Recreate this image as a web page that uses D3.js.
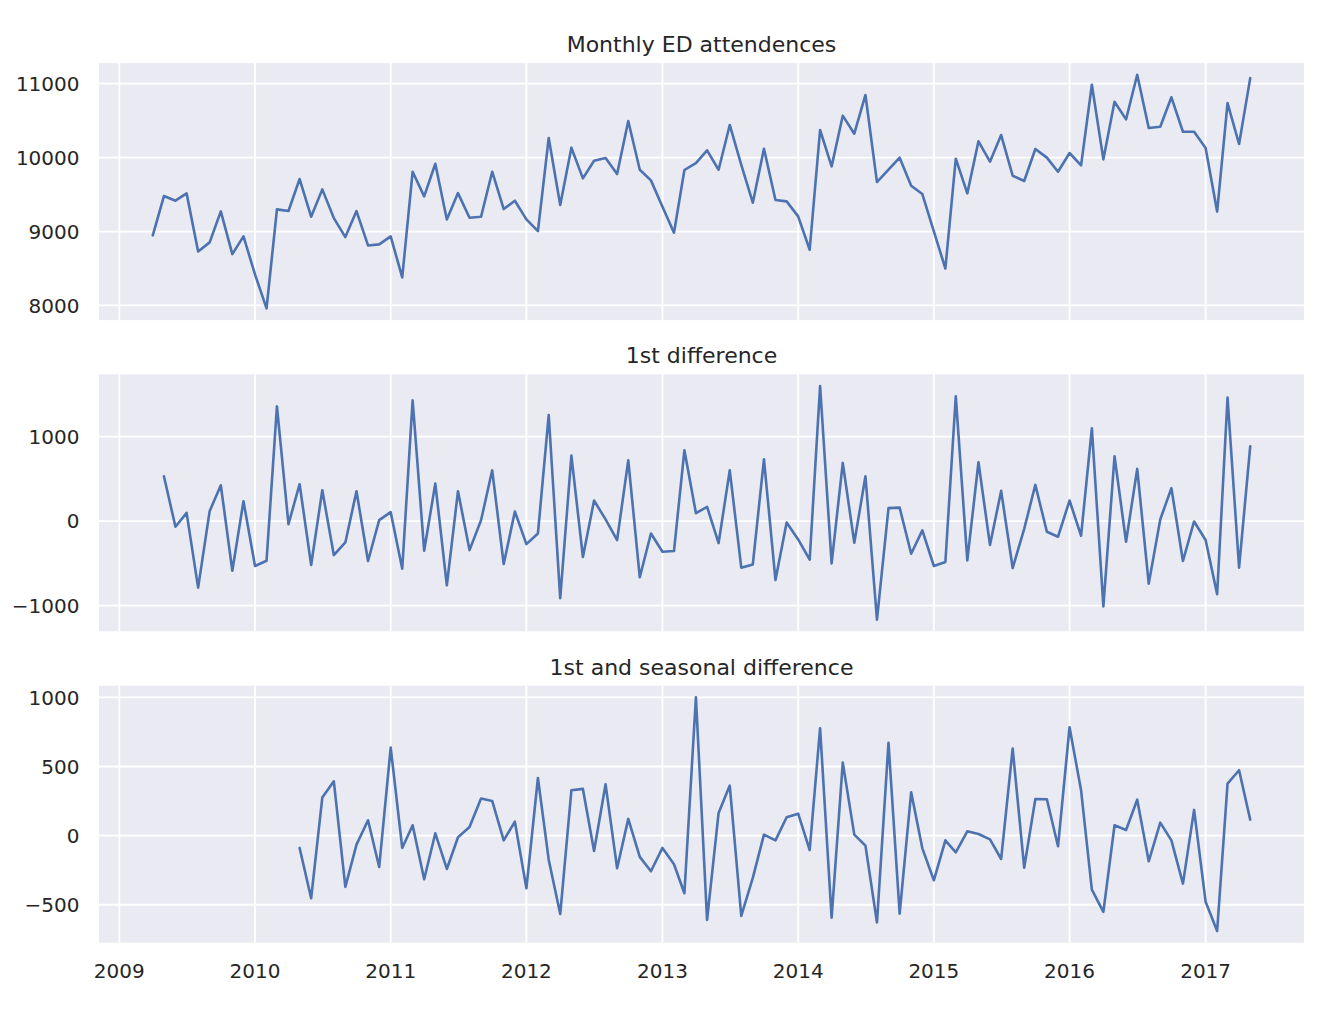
<!DOCTYPE html>
<html>
<head>
<meta charset="utf-8">
<script src="https://cdn.jsdelivr.net/npm/d3@7"></script>
<style>
  html, body { margin: 0; padding: 0; background: #fff; }
  svg { display: block; font-family: "DejaVu Sans", sans-serif; }
  .tick-label { fill: #262626; font-size: 20px; }
  .panel-title { fill: #262626; font-size: 22px; }
</style>
</head>
<body>
<div id="chart"></div>
<script>
// Monthly ED attendances, first value April 2009
const levelStart = [2009, 3];
const levels = [
  8948, 9480, 9417, 9516, 8731, 8853, 9272, 8695, 8934,
  8420, 7960, 9300, 9277, 9710, 9200, 9570, 9182, 8925, 9277, 8812, 8826,
  8934, 8379, 9809, 9475, 9917, 9164, 9520, 9187, 9200, 9809, 9304, 9417,
  9164, 9006, 10265, 9358, 10134, 9719, 9958, 9994, 9778, 10495, 9836, 9692,
  9335, 8984, 9832, 9926, 10098, 9836, 10441, 9900, 9390, 10120, 9426, 9408,
  9205, 8754, 10373, 9881, 10567, 10323, 10847, 9669, 9836, 9999, 9620, 9507,
  9002, 8500, 9985, 9516, 10220, 9944, 10305, 9755, 9683, 10116, 9999, 9809,
  10062, 9895, 10985, 9976, 10756, 10517, 11120, 10400, 10418, 10815, 10350, 10350,
  10129, 9270, 10738, 10184, 11075
];

// 1st difference, first value May 2009
const diffStart = [2009, 4];
const diff1 = [
  531, -67, 98, -787, 118, 425, -587, 236,
  -531, -469, 1358, -35, 437, -520, 366, -402, -252, 354, -472, 12,
  106, -563, 1429, -350, 445, -760, 354, -343, 10, 602, -508, 114,
  -272, -146, 1256, -913, 776, -425, 244, 20, -224, 720, -665, -146,
  -362, -354, 839, 94, 169, -260, 602, -551, -512, 732, -697, -16,
  -217, -457, 1600, -500, 689, -256, 531, -1166, 154, 160, -386, -110,
  -531, -484, 1478, -465, 697, -283, 358, -555, -91, 429, -126, -185,
  244, -173, 1098, -1010, 768, -244, 618, -740, 20, 390, -472, -4,
  -224, -865, 1462, -551, 886
];

// 1st and seasonal difference, first value May 2010
const seasStart = [2010, 4];
const diffSeas = [
  -89, -453, 275, 393, -371, -65, 111, -227,
  637, -89, 75, -316, 17, -241, -12, 63, 268, 251, -34, 101,
  -381, 417, -174, -567, 328, 338, -111, 371, -236, 121, -154, -258,
  -89, -207, -417, 1000, -610, 164, 362, -581, -306, 7, -34, 133,
  159, -104, 777, -593, 528, 7, -72, -628, 671, -564, 314, -92,
  -323, -34, -121, 31, 12, -27, -169, 630, -232, 265, 263, -77,
  784, 328, -391, -552, 75, 41, 260, -186, 94, -34, -347, 186,
  -478, -690, 376, 473, 116
];

const titles = ['Monthly ED attendences', '1st difference', '1st and seasonal difference'];
const yTicks = [
  [8000, 9000, 10000, 11000],
  [-1000, 0, 1000],
  [-500, 0, 500, 1000]
];
const xTickYears = [2009, 2010, 2011, 2012, 2013, 2014, 2015, 2016, 2017];

// 把數列轉成 {date, value}
function toPoints(start, values) {
  const first = new Date(Date.UTC(start[0], start[1], 1));
  return values.map((v, i) => ({ date: d3.utcMonth.offset(first, i), value: v }));
}

const series = [
  toPoints(levelStart, levels),
  toPoints(diffStart, diff1),
  toPoints(seasStart, diffSeas)
];

const width = 1320, height = 1019;
const left = 99, right = 1304;
const panelTops = [63.1, 374.3, 685.7];
const panelH = 257;

const svg = d3.select('#chart').append('svg')
  .attr('width', width)
  .attr('height', height);

// shared x with a small margin on both sides
const allDates = series[0].map(d => d.date);
const [d0, d1] = d3.extent(allDates);
const span = d1 - d0;
const x = d3.scaleUtc()
  .domain([new Date(+d0 - span * 0.049), new Date(+d1 + span * 0.049)])
  .range([left, right]);
const yearDates = xTickYears.map(y => new Date(Date.UTC(y, 0, 1)));

series.forEach((pts, i) => {
  const top = panelTops[i];
  const [lo, hi] = d3.extent(pts, d => d.value);
  const pad = (hi - lo) * 0.05;
  const y = d3.scaleLinear()
    .domain([lo - pad, hi + pad])
    .range([top + panelH, top]);

  const g = svg.append('g');

  g.append('rect')
    .attr('x', left).attr('y', top)
    .attr('width', right - left).attr('height', panelH)
    .attr('fill', '#EAEAF2');

  // grid
  g.selectAll('.vgrid').data(yearDates).enter().append('line')
    .attr('x1', d => x(d)).attr('x2', d => x(d))
    .attr('y1', top).attr('y2', top + panelH)
    .attr('stroke', '#fff').attr('stroke-width', 1.8);

  g.selectAll('.hgrid').data(yTicks[i]).enter().append('line')
    .attr('x1', left).attr('x2', right)
    .attr('y1', d => y(d)).attr('y2', d => y(d))
    .attr('stroke', '#fff').attr('stroke-width', 1.8);

  // y tick labels
  g.selectAll('.ylab').data(yTicks[i]).enter().append('text')
    .attr('class', 'tick-label')
    .attr('x', left - 19.5)
    .attr('y', d => y(d))
    .attr('dy', '0.36em')
    .attr('text-anchor', 'end')
    .text(d => d < 0 ? '\u2212' + Math.abs(d) : String(d));

  // title
  g.append('text')
    .attr('class', 'panel-title')
    .attr('x', (left + right) / 2)
    .attr('y', top - 11)
    .attr('text-anchor', 'middle')
    .text(titles[i]);

  // line
  const line = d3.line()
    .x(d => x(d.date))
    .y(d => y(d.value));

  g.append('path')
    .datum(pts)
    .attr('d', line)
    .attr('fill', 'none')
    .attr('stroke', '#4C72B0')
    .attr('stroke-width', 2.6)
    .attr('stroke-linejoin', 'round')
    .attr('stroke-linecap', 'round');
});

// x tick labels on the bottom panel only
const bottom = panelTops[2] + panelH;
svg.append('g').selectAll('text').data(yearDates).enter().append('text')
  .attr('class', 'tick-label')
  .attr('x', d => x(d))
  .attr('y', bottom + 35.5)
  .attr('text-anchor', 'middle')
  .text(d => d.getUTCFullYear());
</script>
</body>
</html>
